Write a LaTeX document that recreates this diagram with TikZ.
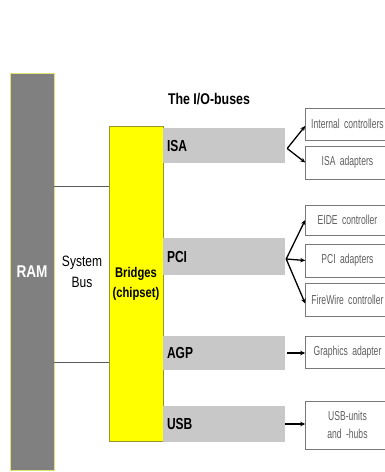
\documentclass[tikz,border=0pt]{standalone}
\usepackage{fontspec}
\setmainfont{Liberation Sans}
\newfontfamily\narrowsans[FakeStretch=0.8]{Liberation Sans}
\newfontfamily\barsans[FakeStretch=0.75]{Liberation Sans}
\newfontfamily\thinsans[FakeStretch=0.66]{Liberation Sans}
\newcommand\tightspaces{\spaceskip=2pt plus 1pt minus 0.5pt\relax}
\usetikzlibrary{arrows.meta}
\definecolor{ramgrey}{RGB}{128,128,128}
\definecolor{ramedge}{RGB}{225,225,120}
\definecolor{chipyellow}{RGB}{255,255,0}
\definecolor{chipedge}{RGB}{150,150,40}
\definecolor{busgrey}{RGB}{200,200,200}
\definecolor{boxedge}{RGB}{120,120,120}
\definecolor{boxtext}{RGB}{95,95,95}
\definecolor{sysline}{RGB}{90,90,90}
\tikzset{
  bar/.style={fill=busgrey, draw=none, minimum width=122pt, text width=114pt,
    align=left, inner xsep=4pt, font=\barsans\bfseries\fontsize{16}{18}\selectfont},
  devbox/.style={draw=boxedge, line width=0.9pt, fill=white, minimum width=81pt,
    text width=77pt, align=center, text=boxtext,
    font=\thinsans\fontsize{13}{15}\selectfont\tightspaces},
  arr/.style={line width=1.3pt, -{Stealth[length=5pt,width=4.5pt]}},
  busline/.style={draw=sysline, line width=1pt}
}
\begin{document}
\begin{tikzpicture}[x=1pt,y=-1pt]
\useasboundingbox (0,0) rectangle (385,472);
\clip (0,0) rectangle (385,472);
\fill[white] (0,0) rectangle (385,472);

% memory and chipset
\node[fill=ramgrey, draw=ramedge, line width=0.8pt, minimum width=44pt, minimum height=397pt,
  text=white, font=\narrowsans\bfseries\fontsize{17}{19}\selectfont] (ram) at (32,271.5) {RAM};
\node[fill=chipyellow, draw=chipedge, line width=0.6pt, minimum width=54pt, minimum height=315pt,
  align=center, font=\narrowsans\bfseries\fontsize{14}{20}\selectfont] (bridge) at (136,283.5)
  {Bridges\\(chipset)};

% system bus
\coordinate (sbA) at (0,186);
\coordinate (sbB) at (0,362);
\draw[busline] (ram.east |- sbA) -- (bridge.west |- sbA);
\draw[busline] (ram.east |- sbB) -- (bridge.west |- sbB);
\node[align=center, font=\narrowsans\fontsize{15}{21}\selectfont] (sysbus) at (82,272) {System\\Bus};

% I/O buses
\node[font=\narrowsans\bfseries\fontsize{15.5}{18}\selectfont] (title) at (209,99) {The I/O-buses};
\node[bar, minimum height=35pt] (isa) at (224,145.5) {ISA};
\node[bar, minimum height=37pt] (pci) at (224,256.5) {PCI};
\node[bar, minimum height=34pt] (agp) at (224,353) {AGP};
\node[bar, minimum height=36pt] (usb) at (224,424) {USB};

% devices
\node[devbox, minimum height=32pt] (ic) at (347.5,124) {Internal controllers};
\node[devbox, minimum height=33pt] (isaad) at (347.5,162.5) {ISA adapters};
\node[devbox, minimum height=30pt] (eide) at (347.5,220) {EIDE controller};
\node[devbox, minimum height=33pt] (pciad) at (347.5,260.5) {PCI adapters};
\node[devbox, minimum height=33pt] (fw) at (347.5,299.5) {FireWire controller};
\node[devbox, minimum height=32pt] (gfx) at (347.5,352) {Graphics adapter};
\node[devbox, minimum height=48pt, font=\thinsans\fontsize{13}{18}\selectfont\tightspaces] (usbu) at (347.5,425) {USB-units\\and -hubs};

% connections
\coordinate (isaJ) at ([xshift=2pt,yshift=-3pt]isa.east);
\coordinate (pciJ) at ([xshift=1pt,yshift=-2.5pt]pci.east);
\coordinate (agpJ) at ([xshift=2pt]agp.east);
\coordinate (usbJ) at ([xshift=0pt]usb.east);
\draw[arr] (isaJ) -- ([yshift=-2pt]ic.west);
\draw[arr] (isaJ) -- (isaad.west);
\draw[arr] (pciJ) -- (eide.west);
\draw[arr] (pciJ) -- (pciad.west);
\draw[arr] (pciJ) -- ([yshift=-4pt]fw.west);
\draw[arr] (agpJ) -- (agpJ -| gfx.west);
\draw[arr] (usbJ) -- (usbJ -| usbu.west);
\end{tikzpicture}
\end{document}
